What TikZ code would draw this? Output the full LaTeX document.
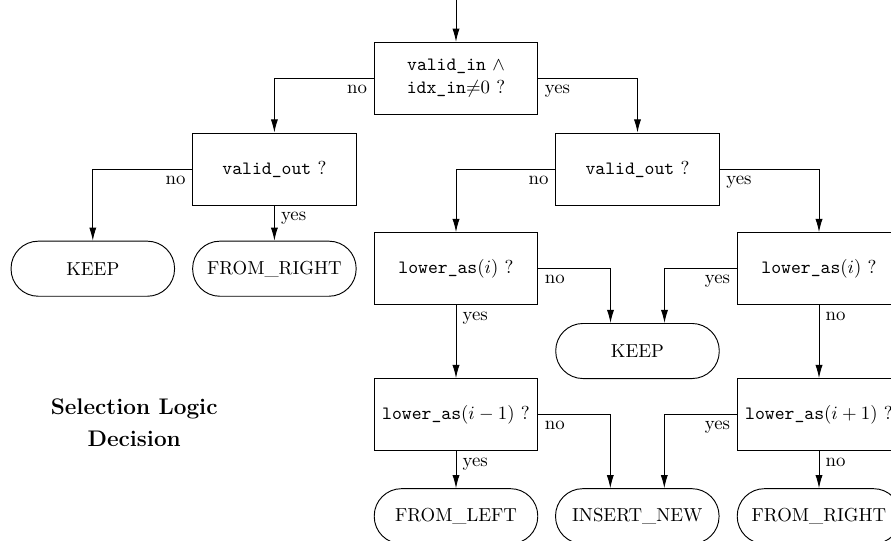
\documentclass[tikz,border=0pt]{standalone}
\usetikzlibrary{arrows.meta,calc}
\begin{document}
\begin{tikzpicture}[x=0.532pt,y=-0.532pt, line width=0.5pt,
  decision/.style={draw, rectangle, minimum width=87pt, minimum height=38.3pt,
    align=center, inner sep=2pt},
  terminal/.style={draw, rectangle, rounded corners=14.5pt,
    minimum width=87pt, minimum height=29.3pt},
  arr/.style={-{Latex[length=7pt,width=3.8pt]}},
  lbl/.style={inner sep=3.3pt}]
\useasboundingbox (0,0) rectangle (891,540);
\clip (0,0) rectangle (891,540);

% decision boxes
\node[decision] (d1) at (456,78.3) {\texttt{valid\_in} $\land$\\ \texttt{idx\_in}${\neq}$0 ?};
\node[decision] (d2) at (274.4,169) {\texttt{valid\_out} ?};
\node[decision] (d3) at (637.5,169) {\texttt{valid\_out} ?};
\node[decision] (d4) at (456,268.6) {\texttt{lower\_as}$(i)$ ?};
\node[decision] (d5) at (819,268.6) {\texttt{lower\_as}$(i)$ ?};
\node[decision] (d6) at (456,414.6) {\texttt{lower\_as}$(i-1)$ ?};
\node[decision] (d7) at (819,414.6) {\texttt{lower\_as}$(i+1)$ ?};

% outcomes
\node[terminal] (t1) at (92.8,268.7) {KEEP};
\node[terminal] (t2) at (274.4,268.7) {FROM\_RIGHT};
\node[terminal] (t3) at (637.5,351) {KEEP};
\node[terminal] (t4) at (456,516.2) {FROM\_LEFT};
\node[terminal] (t5) at (637.3,516.2) {INSERT\_NEW};
\node[terminal] (t6) at (819,516.2) {FROM\_RIGHT};

% title
\node[align=center, font=\large\bfseries] (title) at (134.2,423)
  {Selection Logic\\[3pt]Decision};

% entry
\coordinate (start) at (456,0);
\draw[arr] (start) -- (d1.north);

% connectors
\draw[arr] (d1.west) -| node[lbl, pos=0, below left] {no} (d2.north);
\draw[arr] (d1.east) -| node[lbl, pos=0, below right] {yes} (d3.north);

\draw[arr] (d2.west) -| node[lbl, pos=0, below left] {no} (t1.north);
\draw[arr] (d2.south) -- node[lbl, pos=0, below right] {yes} (t2.north);

\draw[arr] (d3.west) -| node[lbl, pos=0, below left] {no} (d4.north);
\draw[arr] (d3.east) -| node[lbl, pos=0, below right] {yes} (d5.north);

\coordinate (t3l) at ($(t3.north)+(-27,0)$);
\coordinate (t3r) at ($(t3.north)+(27,0)$);
\draw[arr] (d4.east) -| node[lbl, pos=0, below right] {no} (t3l);
\draw[arr] (d5.west) -| node[lbl, pos=0, below left] {yes} (t3r);

\draw[arr] (d4.south) -- node[lbl, pos=0, below right] {yes} (d6.north);
\draw[arr] (d5.south) -- node[lbl, pos=0, below right] {no} (d7.north);

\coordinate (t5l) at ($(t5.north)+(-27,0)$);
\coordinate (t5r) at ($(t5.north)+(27,0)$);
\draw[arr] (d6.east) -| node[lbl, pos=0, below right] {no} (t5l);
\draw[arr] (d7.west) -| node[lbl, pos=0, below left] {yes} (t5r);

\draw[arr] (d6.south) -- node[lbl, pos=0, below right] {yes} (t4.north);
\draw[arr] (d7.south) -- node[lbl, pos=0, below right] {no} (t6.north);
\end{tikzpicture}
\end{document}
